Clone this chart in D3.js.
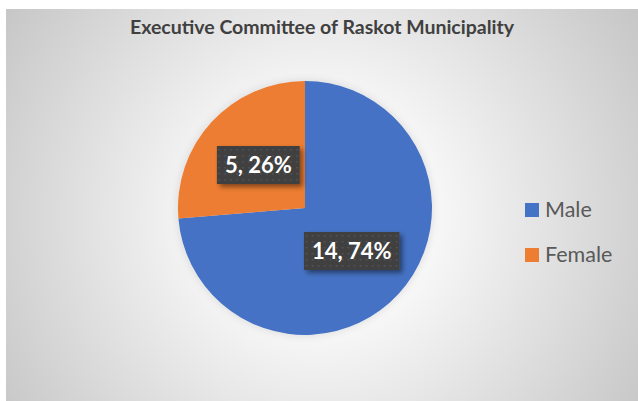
<!DOCTYPE html>
<html>
<head>
<meta charset="utf-8">
<script src="https://cdn.jsdelivr.net/npm/d3@7"></script>
<style>
  body { margin: 0; background: #fff; }
  svg { display: block; }
</style>
</head>
<body>
<script>
// chart data
var categories = ["Male", "Female"];
var values = [14, 5];
var colors = ["#4472C4", "#ED7D31"];
var title = "Executive Committee of Raskot Municipality";

var w = 638, h = 401;
var cx = 305, cy = 208, radius = 127;

var svg = d3.select("body").append("svg")
  .attr("width", w)
  .attr("height", h);

var defs = svg.append("defs");

// radial background like excel preset
var grad = defs.append("radialGradient")
  .attr("id", "bg")
  .attr("gradientUnits", "userSpaceOnUse")
  .attr("cx", 320).attr("cy", 215).attr("r", 390);
grad.append("stop").attr("offset", "0%").attr("stop-color", "#ffffff");
grad.append("stop").attr("offset", "30%").attr("stop-color", "#f7f7f7");
grad.append("stop").attr("offset", "100%").attr("stop-color", "#c4c4c4");

var pat = defs.append("pattern")
  .attr("id", "dots")
  .attr("patternUnits", "userSpaceOnUse")
  .attr("width", 6).attr("height", 6);
pat.append("rect").attr("width", 6).attr("height", 6).attr("fill", "#404040");
pat.append("rect").attr("x", 2).attr("y", 2).attr("width", 1.5).attr("height", 1.5).attr("fill", "#565656");

var sh = defs.append("filter").attr("id", "shadow")
  .attr("x", "-20%").attr("y", "-20%").attr("width", "150%").attr("height", "160%");
sh.append("feDropShadow")
  .attr("dx", 3).attr("dy", 3).attr("stdDeviation", 2.5)
  .attr("flood-color", "#000").attr("flood-opacity", 0.45);

var glow = defs.append("filter").attr("id", "glow")
  .attr("x", "-10%").attr("y", "-10%").attr("width", "120%").attr("height", "120%");
glow.append("feDropShadow")
  .attr("dx", 0).attr("dy", 0).attr("stdDeviation", 4)
  .attr("flood-color", "#000").attr("flood-opacity", 0.12);

svg.append("rect")
  .attr("x", 6).attr("y", 9)
  .attr("width", w - 6).attr("height", h - 9)
  .attr("fill", "url(#bg)");

svg.append("text")
  .attr("x", 322)
  .attr("y", 34)
  .attr("text-anchor", "middle")
  .attr("font-family", "Lato, 'Open Sans', sans-serif")
  .attr("font-weight", "bold")
  .attr("font-size", "19.5px")
  .attr("fill", "#404040")
  .text(title);

var pie = d3.pie().sort(null);
var arcs = pie(values);
var arc = d3.arc().innerRadius(0).outerRadius(radius);

var g = svg.append("g").attr("transform", "translate(" + cx + "," + cy + ")");

g.append("g").attr("filter", "url(#glow)")
  .selectAll("path")
  .data(arcs)
  .enter()
  .append("path")
  .attr("d", arc)
  .attr("fill", function(d, i) { return colors[i]; });

var totals = d3.sum(values);
var labels = g.selectAll(".lbl")
  .data(arcs)
  .enter()
  .append("g")
  .attr("class", "lbl")
  .attr("transform", function(d) {
    var c = arc.centroid(d);
    return "translate(" + c[0] + "," + c[1] + ")";
  });

labels.append("text")
  .attr("text-anchor", "middle")
  .attr("dy", "0.36em")
  .attr("font-family", "Lato, 'Open Sans', sans-serif")
  .attr("font-weight", "bold")
  .attr("font-size", "22px")
  .attr("fill", "#ffffff")
  .text(function(d) {
    return d.data + ", " + Math.round(d.data / totals * 100) + "%";
  });

// box behind each label
labels.each(function() {
  var grp = d3.select(this);
  var bb = grp.select("text").node().getBBox();
  grp.insert("rect", "text")
    .attr("x", bb.x - 8)
    .attr("y", -19)
    .attr("width", bb.width + 16)
    .attr("height", 38)
    .attr("fill", "url(#dots)")
    .attr("filter", "url(#shadow)");
});

// legend
var legend = svg.append("g").attr("transform", "translate(525,203)");
var item = legend.selectAll("g")
  .data(categories)
  .enter()
  .append("g")
  .attr("transform", function(d, i) { return "translate(0," + (i * 45) + ")"; });

item.append("rect")
  .attr("width", 14).attr("height", 14)
  .attr("fill", function(d, i) { return colors[i]; });

item.append("text")
  .attr("x", 20)
  .attr("y", 14)
  .attr("font-family", "Lato, 'Open Sans', sans-serif")
  .attr("font-size", "21.5px")
  .attr("fill", "#595959")
  .text(function(d) { return d; });
</script>
</body>
</html>
